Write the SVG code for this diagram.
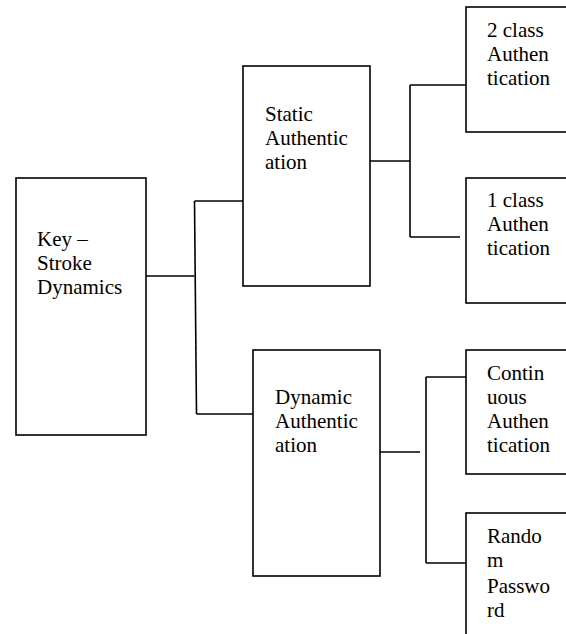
<svg xmlns="http://www.w3.org/2000/svg" width="566" height="634" viewBox="0 0 566 634">
<style>
.box{fill:#fff;stroke:#000;stroke-width:1.6}
.con{fill:none;stroke:#000;stroke-width:1.6}
.t{font-family:'Liberation Serif','Times New Roman',Tinos,'DejaVu Serif',serif;font-size:21px;fill:#000}
</style>
<rect width="566" height="634" fill="#fff"/>
<g id="connectors">
<path class="con" d="M146 276 H194.5"/>
<path class="con" d="M194.5 201 L196.5 414"/>
<path class="con" d="M194.5 201 H243"/>
<path class="con" d="M196.5 414 H253"/>
<path class="con" d="M370 161 H410"/>
<path class="con" d="M410 85 V237"/>
<path class="con" d="M410 85 H466"/>
<path class="con" d="M410 237 H460"/>
<path class="con" d="M380 452 H420"/>
<path class="con" d="M426 377 V563"/>
<path class="con" d="M426 377 H466"/>
<path class="con" d="M426 563 H466"/>
</g>
<g id="key-stroke">
<rect class="box" x="16" y="178" width="130" height="257"/>
<g class="t" font-family="Liberation Serif, serif">
<text x="37" y="246">Key –</text>
<text x="37" y="270">Stroke</text>
<text x="37" y="294">Dynamics</text>
</g>
</g>
<g id="static">
<rect class="box" x="243" y="66" width="127" height="220"/>
<g class="t" font-family="Liberation Serif, serif">
<text x="265" y="121">Static</text>
<text x="265" y="145">Authentic</text>
<text x="265" y="169">ation</text>
</g>
</g>
<g id="dynamic">
<rect class="box" x="253" y="350" width="127" height="226"/>
<g class="t" font-family="Liberation Serif, serif">
<text x="275" y="404">Dynamic</text>
<text x="275" y="428">Authentic</text>
<text x="275" y="452">ation</text>
</g>
</g>
<g id="two-class">
<rect class="box" x="466" y="7" width="130" height="125"/>
<g class="t" font-family="Liberation Serif, serif">
<text x="487" y="37">2 class</text>
<text x="487" y="61">Authen</text>
<text x="487" y="85">tication</text>
</g>
</g>
<g id="one-class">
<rect class="box" x="466" y="178" width="130" height="125"/>
<g class="t" font-family="Liberation Serif, serif">
<text x="487" y="207">1 class</text>
<text x="487" y="231">Authen</text>
<text x="487" y="255">tication</text>
</g>
</g>
<g id="continuous">
<rect class="box" x="466" y="350" width="130" height="124"/>
<g class="t" font-family="Liberation Serif, serif">
<text x="487" y="380">Contin</text>
<text x="487" y="404">uous</text>
<text x="487" y="428">Authen</text>
<text x="487" y="452">tication</text>
</g>
</g>
<g id="random">
<rect class="box" x="466" y="513" width="130" height="140"/>
<g class="t" font-family="Liberation Serif, serif">
<text x="487" y="543">Rando</text>
<text x="487" y="567">m</text>
<text x="487" y="593">Passwo</text>
<text x="487" y="617">rd</text>
</g>
</g>
</svg>
